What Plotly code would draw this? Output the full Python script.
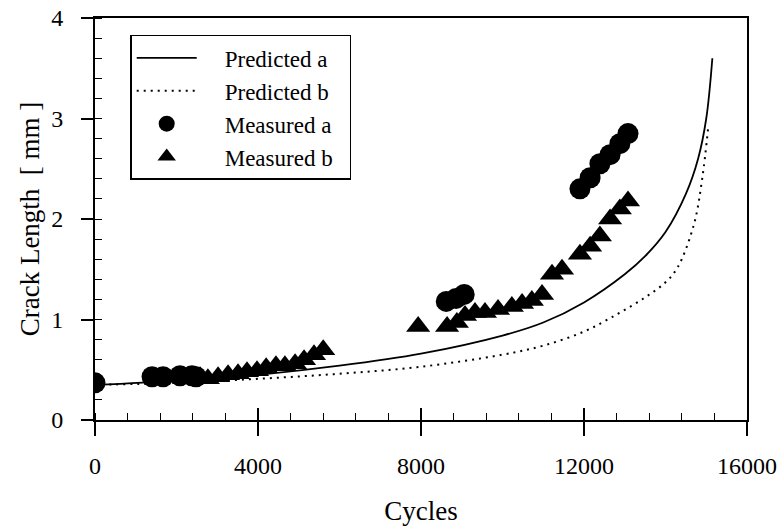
import plotly.graph_objects as go

# Predicted curves
pred_a_x = [0, 2000, 4000, 6000, 8000, 10000, 11000, 12000, 13000, 13500, 14000, 14500, 14800, 15000, 15150]
pred_a_y = [0.35, 0.39, 0.45, 0.54, 0.66, 0.84, 0.97, 1.17, 1.45, 1.63, 1.87, 2.25, 2.6, 3.0, 3.6]

pred_b_x = [0, 2000, 4000, 6000, 8000, 10000, 11000, 12000, 12800, 13500, 14000, 14300, 14700, 14900, 15050]
pred_b_y = [0.35, 0.37, 0.41, 0.46, 0.53, 0.65, 0.74, 0.88, 1.05, 1.22, 1.37, 1.52, 1.95, 2.4, 2.92]

# Measured data
meas_a_x = [0, 1400, 1670, 2085, 2380, 2480, 8620, 8860, 9060, 11900, 12150, 12390, 12640, 12880, 13080]
meas_a_y = [0.37, 0.43, 0.43, 0.44, 0.44, 0.43, 1.18, 1.21, 1.25, 2.30, 2.41, 2.55, 2.64, 2.75, 2.85]

meas_b_x = [2580, 2770, 3020, 3265, 3510, 3730, 3975, 4200, 4440, 4660, 4910, 5130, 5375, 5600,
            7930, 8640, 8880, 9080, 9325, 9570, 9890, 10230, 10480, 10720, 10970, 11215, 11460,
            11900, 12150, 12390, 12640, 12880, 13080]
meas_b_y = [0.43, 0.41, 0.43, 0.45, 0.46, 0.48, 0.49, 0.52, 0.54, 0.54, 0.56, 0.60, 0.65, 0.70,
            0.93, 0.93, 0.97, 1.04, 1.07, 1.07, 1.10, 1.13, 1.16, 1.19, 1.25, 1.45, 1.50,
            1.65, 1.73, 1.83, 2.0, 2.1, 2.18]

x_ticks = [0, 4000, 8000, 12000, 16000]
y_ticks = [0, 1, 2, 3, 4]

FONT = "Liberation Serif"
PAD = "\u00a0" * 4
TAIL = "\u00a0" * 2

fig = go.Figure()
fig.add_trace(go.Scatter(x=pred_a_x, y=pred_a_y, mode="lines", name=PAD + "Predicted a" + TAIL,
                         line=dict(color="black", width=1.8, shape="spline")))
fig.add_trace(go.Scatter(x=pred_b_x, y=pred_b_y, mode="lines", name=PAD + "Predicted b" + TAIL,
                         line=dict(color="black", width=2, dash="2px,5px", shape="spline")))
fig.add_trace(go.Scatter(x=meas_a_x, y=meas_a_y, mode="markers", name=PAD + "Measured a" + TAIL,
                         marker=dict(symbol="circle", size=21, color="black")))
fig.add_trace(go.Scatter(x=meas_b_x, y=meas_b_y, mode="markers", name=PAD + "Measured b" + TAIL,
                         marker=dict(symbol="triangle-up", size=21, color="black")))
# empty trace to anchor overlay axes for crossing ticks
fig.add_trace(go.Scatter(x=[], y=[], xaxis="x2", yaxis="y2", showlegend=False))

fig.update_layout(
    width=781, height=531,
    margin=dict(l=95, r=34, t=18, b=111),
    paper_bgcolor="white", plot_bgcolor="white",
    font=dict(family=FONT, size=24, color="black"),
    showlegend=True,
    legend=dict(x=0.054, y=0.958, xanchor="left", yanchor="top",
                bordercolor="black", borderwidth=1.5, bgcolor="white",
                font=dict(family=FONT, size=23), tracegroupgap=0,
                itemwidth=60),
    xaxis=dict(range=[0, 16000], tickvals=x_ticks, ticktext=[str(v) for v in x_ticks],
               showline=True, linecolor="black", linewidth=2, mirror=True,
               ticks="outside", ticklen=14, tickwidth=1.5, tickcolor="black",
               ticklabelstandoff=9, automargin=False, ticklabeloverflow="allow",
               tickfont=dict(family=FONT, size=24),
               minor=dict(dtick=800, ticks="inside", ticklen=7, tickwidth=1.2, tickcolor="black", showgrid=False),
               showgrid=False, zeroline=False,
               title=dict(text="Cycles", font=dict(family=FONT, size=27), standoff=23)),
    yaxis=dict(range=[0, 4], tickvals=y_ticks,
               showline=True, linecolor="black", linewidth=2, mirror=True,
               ticks="outside", ticklen=12, tickwidth=1.5, tickcolor="black",
               ticklabelstandoff=13, automargin=False, ticklabeloverflow="allow",
               tickfont=dict(family=FONT, size=24),
               minor=dict(dtick=0.2, ticks="inside", ticklen=7, tickwidth=1.2, tickcolor="black", showgrid=False),
               showgrid=False, zeroline=False,
               title=dict(text="Crack Length\u00a0\u00a0[\u00a0mm\u00a0]", font=dict(family=FONT, size=27), standoff=4)),
    xaxis2=dict(overlaying="x", matches="x", range=[0, 16000], tickvals=x_ticks,
                ticks="inside", ticklen=12, tickwidth=1.5, tickcolor="black",
                showticklabels=False, showgrid=False, zeroline=False, showline=False),
    yaxis2=dict(overlaying="y", matches="y", range=[0, 4], tickvals=y_ticks,
                ticks="", showticklabels=False, showgrid=False, zeroline=False, showline=False),
)

fig.write_html("out.html", config={"displayModeBar": False},
               post_script="document.body.style.margin='0';")
